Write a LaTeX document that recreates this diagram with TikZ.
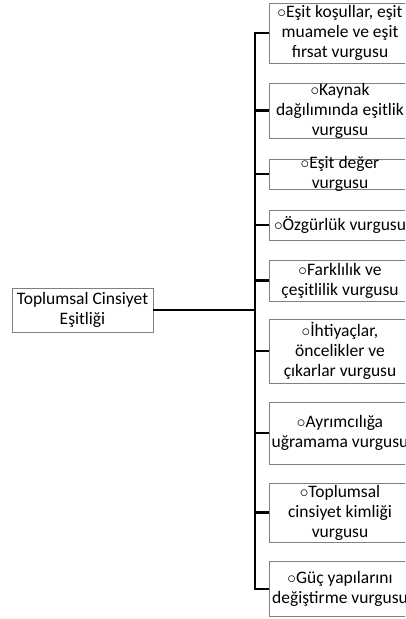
\documentclass[tikz,border=0pt]{standalone}
\usepackage{fontspec}
\setmainfont{Carlito}
\newcommand{\bul}{$\circ$}
\begin{document}
\begin{tikzpicture}[x=1pt,y=-1pt,
  box/.style={draw=black!50, line width=0.9pt, fill=white, minimum width=142pt, inner sep=0pt, anchor=center},
  lbl/.style={align=center, inner sep=0pt, font=\fontsize{17.5}{20}\selectfont, text=black},
  conn/.style={draw=black, line width=2.3pt}]
\useasboundingbox (0,0) rectangle (405,619);
\clip (0,0) rectangle (405,619);
% root
\node[box, minimum width=141pt, minimum height=44pt] (root) at (82.5,310) {};
\node[lbl] (rootT) at (root) {Toplumsal Cinsiyet\\Eşitliği};
% boxes
\node[box, minimum height=60pt] (b1) at (340,33) {};
\node[box, minimum height=55pt] (b2) at (340,110.5) {};
\node[box, minimum height=30pt] (b3) at (340,174) {};
\node[box, minimum height=30pt] (b4) at (340,225) {};
\node[box, minimum height=41pt] (b5) at (340,280.5) {};
\node[box, minimum height=64pt] (b6) at (340,351) {};
\node[box, minimum height=62pt] (b7) at (340,433) {};
\node[box, minimum height=59pt] (b8) at (340,512.5) {};
\node[box, minimum height=55pt] (b9) at (340,589) {};
\node[lbl] (t1) at (b1) {\bul Eşit koşullar, eşit\\muamele ve eşit\\fırsat vurgusu};
\node[lbl] (t2) at (b2) {\bul Kaynak\\dağılımında eşitlik\\vurgusu};
\node[lbl] (t3) at (b3) {\bul Eşit değer\\vurgusu};
\node[lbl] (t4) at (b4) {\bul Özgürlük vurgusu};
\node[lbl] (t5) at (b5) {\bul Farklılık ve\\çeşitlilik vurgusu};
\node[lbl] (t6) at (b6) {\bul İhtiyaçlar,\\öncelikler ve\\çıkarlar vurgusu};
\node[lbl] (t7) at (b7) {\bul Ayrımcılığa\\uğramama vurgusu};
\node[lbl] (t8) at (b8) {\bul Toplumsal\\cinsiyet kimliği\\vurgusu};
\node[lbl] (t9) at (b9) {\bul Güç yapılarını\\değiştirme vurgusu};
% connectors
\coordinate (trunk) at (255,310);
\draw[conn] (root.east) -- (trunk);
\draw[conn, line cap=rect] (trunk |- b1.west) -- (trunk |- b9.west);
\foreach \b in {b1,b2,b3,b4,b5,b6,b7,b8,b9}
  \draw[conn] (trunk |- \b.west) -- (\b.west);
\end{tikzpicture}
\end{document}
